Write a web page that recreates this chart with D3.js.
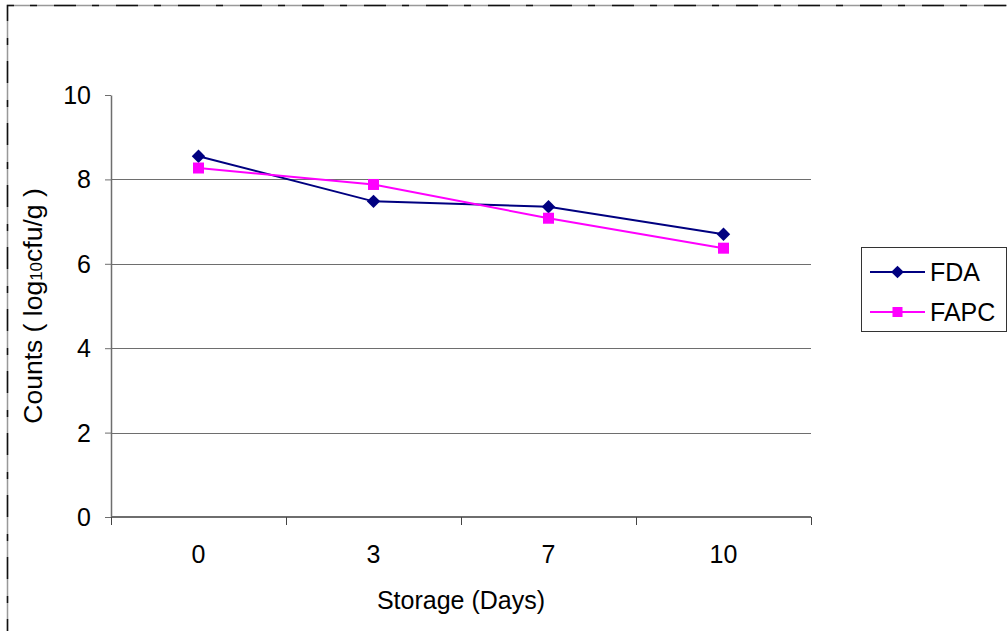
<!DOCTYPE html>
<html>
<head>
<meta charset="utf-8">
<script src="https://cdn.jsdelivr.net/npm/d3@7"></script>
<style>
  html, body { margin: 0; padding: 0; background: #fff; }
  svg { display: block; font-family: "Liberation Sans", Arial, sans-serif; }
</style>
</head>
<body>
<div id="chart"></div>
<script>
const days = ["0", "3", "7", "10"];
const fda = [8.55, 7.48, 7.35, 6.70];
const fapc = [8.27, 7.88, 7.08, 6.37];
const yTicks = [0, 2, 4, 6, 8, 10];

const series = [
  { name: "FDA", values: fda, color: "#000080", diamond: true },
  { name: "FAPC", values: fapc, color: "#FF00FF", diamond: false }
];

const W = 1007, H = 631;
const margin = { top: 95, right: 196, bottom: 114, left: 111 };
const width = W - margin.left - margin.right;
const height = H - margin.top - margin.bottom;
const fs = 25;

const svg = d3.select("#chart").append("svg").attr("width", W).attr("height", H);

// dashed outer frame
const frame = svg.append("g");
frame.append("path").attr("d", `M7.5,${H + 10}V5.5H${W + 10}`)
  .attr("fill", "none").attr("stroke", "#999").attr("stroke-width", 1.5);
frame.append("path").attr("d", `M7.5,${H + 10}V5.5H${W + 10}`)
  .attr("fill", "none").attr("stroke", "#111").attr("stroke-width", 1.5)
  .attr("stroke-dasharray", "22,16,7,17");

function label(sel, px, py, txt, anchor) {
  return sel.append("text")
    .attr("x", px).attr("y", py)
    .attr("text-anchor", anchor || "middle").attr("font-size", fs).attr("fill", "#000")
    .text(txt);
}

const g = svg.append("g").attr("transform", `translate(${margin.left},${margin.top})`);

const x = d3.scaleBand().domain(days).range([0, width]);
const y = d3.scaleLinear().domain([0, 10]).range([height, 0]);

// gridlines
g.append("g").selectAll("line").data(yTicks.filter(d => d > 0 && d < 10)).join("line")
  .attr("x1", 0).attr("x2", width)
  .attr("y1", d => Math.round(y(d)) + 0.5).attr("y2", d => Math.round(y(d)) + 0.5)
  .attr("stroke", "#6e6e6e").attr("stroke-width", 1);

// y axis
const yAxis = g.append("g")
  .call(d3.axisLeft(y).tickValues(yTicks).tickSize(6).tickFormat("").tickSizeOuter(0));
yAxis.select(".domain").attr("stroke", "#6e6e6e").attr("stroke-width", 1.5);
yAxis.selectAll(".tick line").attr("stroke", "#6e6e6e");
yTicks.forEach(t => label(g, -20, y(t) + 9, String(t), "end"));

// x axis: ticks between categories
const xAxis = g.append("g").attr("transform", `translate(0,${height})`);
xAxis.append("line").attr("x1", 0).attr("x2", width).attr("y1", 0).attr("y2", 0)
  .attr("stroke", "#6e6e6e").attr("stroke-width", 2);
const bounds = days.map(d => x(d)).concat([width]);
xAxis.selectAll(".xt").data(bounds).join("line")
  .attr("x1", d => Math.round(d) + 0.5).attr("x2", d => Math.round(d) + 0.5)
  .attr("y1", 0).attr("y2", 8).attr("stroke", "#444");
days.forEach(d => label(xAxis, x(d) + x.bandwidth() / 2, 46, d));

// axis titles
label(svg, margin.left + width / 2, 609, "Storage (Days)");
const yt = svg.append("text")
  .attr("transform", `translate(42,${margin.top + height / 2}) rotate(-90)`)
  .attr("text-anchor", "middle").attr("font-size", 26.5);
yt.append("tspan").text("Counts ( log");
yt.append("tspan").attr("font-size", 17).text("10");
yt.append("tspan").text("cfu/g )");

function marker(sel, s, px, py, big) {
  if (s.diamond) {
    const a = big ? 9.5 : 9;
    sel.append("rect").attr("x", -a / 2).attr("y", -a / 2).attr("width", a).attr("height", a)
      .attr("transform", `translate(${px},${py}) rotate(45)`).attr("fill", s.color);
  } else {
    const a = big ? 11 : 10;
    sel.append("rect").attr("x", px - a / 2).attr("y", py - a / 2).attr("width", a).attr("height", a)
      .attr("fill", s.color);
  }
}

// lines and markers
const cx = (d, i) => x(days[i]) + x.bandwidth() / 2;
const line = d3.line().x(cx).y(d => y(d));
series.forEach(s => {
  g.append("path").datum(s.values).attr("fill", "none")
    .attr("stroke", s.color).attr("stroke-width", 2).attr("d", line);
  s.values.forEach((v, i) => marker(g, s, cx(v, i), y(v), true));
});

// legend
const lg = svg.append("g").attr("transform", "translate(861,247)");
lg.append("rect").attr("x", 0.5).attr("y", 0.5).attr("width", 145).attr("height", 84)
  .attr("fill", "#fff").attr("stroke", "#333").attr("stroke-width", 1);
series.forEach((s, i) => {
  const cy = 25 + i * 40;
  lg.append("line").attr("x1", 9).attr("x2", 64).attr("y1", cy).attr("y2", cy)
    .attr("stroke", s.color).attr("stroke-width", 2);
  marker(lg, s, 36.5, cy, false);
  label(lg, 69, cy + 9, s.name, "start");
});
</script>
</body>
</html>
